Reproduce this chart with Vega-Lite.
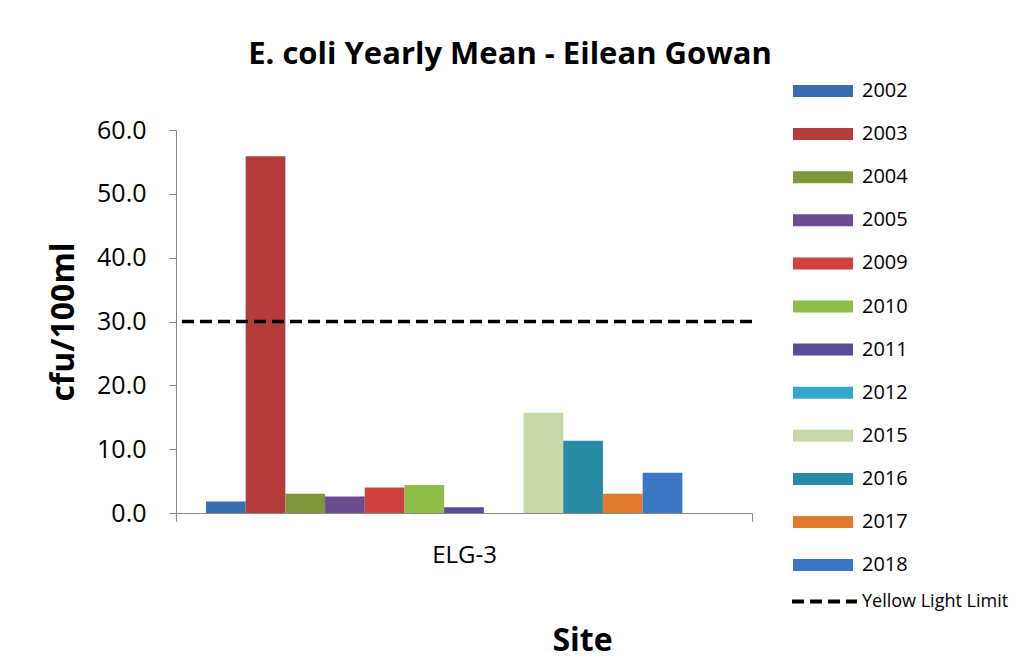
{
  "$schema": "https://vega.github.io/schema/vega-lite/v6.json",
  "width": 576,
  "height": 383,
  "autosize": {"type": "none"},
  "padding": {"left": 176, "top": 130, "right": 274, "bottom": 147},
  "background": "white",
  "config": {
    "font": "Open Sans",
    "view": {"stroke": null},
    "axis": {"grid": false}
  },
  "title": {
    "text": "E. coli Yearly Mean - Eilean Gowan",
    "fontSize": 31,
    "fontWeight": "bold",
    "color": "black",
    "anchor": "middle",
    "dx": 46,
    "offset": -10
  },
  "layer": [
    {
      "data": {
        "values": [
          {"Site": "ELG-3", "Year": "2002", "value": 1.8},
          {"Site": "ELG-3", "Year": "2003", "value": 55.9},
          {"Site": "ELG-3", "Year": "2004", "value": 3.0},
          {"Site": "ELG-3", "Year": "2005", "value": 2.6},
          {"Site": "ELG-3", "Year": "2009", "value": 4.0},
          {"Site": "ELG-3", "Year": "2010", "value": 4.4},
          {"Site": "ELG-3", "Year": "2011", "value": 0.9},
          {"Site": "ELG-3", "Year": "2012", "value": 0.0},
          {"Site": "ELG-3", "Year": "2015", "value": 15.7},
          {"Site": "ELG-3", "Year": "2016", "value": 11.3},
          {"Site": "ELG-3", "Year": "2017", "value": 3.0},
          {"Site": "ELG-3", "Year": "2018", "value": 6.3}
        ]
      },
      "mark": {"type": "bar"},
      "encoding": {
        "x": {
          "field": "Site",
          "type": "nominal",
          "scale": {"paddingInner": 0, "paddingOuter": 0},
          "axis": {
            "labelAngle": 0,
            "labelFontSize": 24,
            "labelColor": "black",
            "labelPadding": 22,
            "tickSize": 8,
            "tickBand": "extent",
            "tickColor": "#888888",
            "domainColor": "#888888",
            "title": "Site",
            "titleFontSize": 32,
            "titleFontWeight": "bold",
            "titleColor": "black",
            "titleX": 406,
            "titleY": 127,
            "titleAlign": "center",
            "titleBaseline": "middle"
          }
        },
        "xOffset": {
          "field": "Year",
          "type": "nominal",
          "scale": {
            "domain": ["2002", "2003", "2004", "2005", "2009", "2010", "2011", "2012", "2015", "2016", "2017", "2018", "pad"],
            "paddingInner": 0,
            "paddingOuter": 0.755
          }
        },
        "y": {
          "field": "value",
          "type": "quantitative",
          "scale": {"domain": [0, 60]},
          "axis": {
            "values": [0, 10, 20, 30, 40, 50, 60],
            "format": ".1f",
            "labelFontSize": 25,
            "labelColor": "black",
            "labelPadding": 23,
            "tickSize": 7,
            "tickColor": "#888888",
            "domainColor": "#888888",
            "title": "cfu/100ml",
            "titleFontSize": 32,
            "titleFontWeight": "bold",
            "titleColor": "black",
            "titlePadding": 16
          }
        },
        "color": {
          "field": "Year",
          "type": "nominal",
          "scale": {
            "domain": ["2002", "2003", "2004", "2005", "2009", "2010", "2011", "2012", "2015", "2016", "2017", "2018"],
            "range": ["#3a6db0", "#b43c3a", "#7d973a", "#6b4c93", "#d2413e", "#8fbd4a", "#5a4a9a", "#34a8cc", "#c6d8a6", "#288ca6", "#e07a2c", "#3c77c6"]
          },
          "legend": {
            "orient": "none",
            "legendX": 617,
            "legendY": -69,
            "title": null,
            "symbolType": "M-1,-0.2L1,-0.2L1,0.2L-1,0.2Z",
            "symbolSize": 3600,
            "symbolStrokeWidth": 0,
            "labelFontSize": 20,
            "labelColor": "black",
            "labelOffset": 9,
            "rowPadding": 3.1
          }
        }
      }
    },
    {
      "data": {"values": [{"limit": 30, "name": "Yellow Light Limit"}]},
      "mark": {"type": "rule", "strokeWidth": 3.5, "color": "black"},
      "encoding": {
        "y": {"field": "limit", "type": "quantitative"},
        "strokeDash": {
          "field": "name",
          "type": "nominal",
          "scale": {"range": [[12, 6]]},
          "legend": {
            "orient": "none",
            "legendX": 614,
            "legendY": 437,
            "title": null,
            "symbolType": "stroke",
            "symbolSize": 4225,
            "symbolStrokeWidth": 4,
            "symbolStrokeColor": "black",
            "labelFontSize": 18,
            "labelColor": "black",
            "labelOffset": 3
          }
        }
      }
    }
  ]
}
